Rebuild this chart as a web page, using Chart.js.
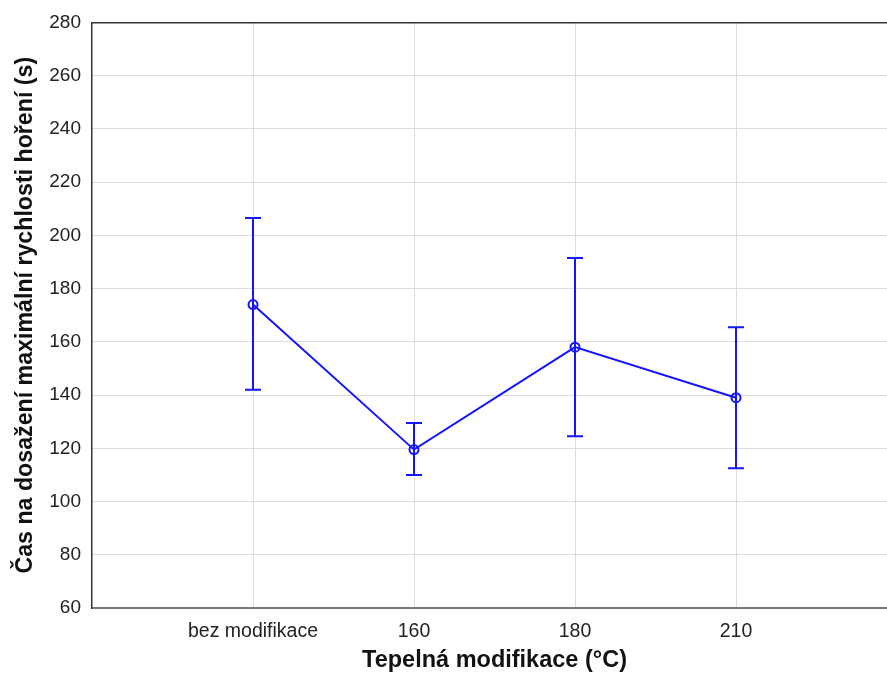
<!DOCTYPE html>
<html>
<head>
<meta charset="utf-8">
<script src="https://cdn.jsdelivr.net/npm/chart.js@4/dist/chart.umd.min.js"></script>
<style>
  html, body { margin: 0; padding: 0; background: #fff; overflow: hidden; }
  #wrap { width: 887px; height: 675px; overflow: hidden; }
</style>
</head>
<body>
<!-- the original plot runs a little past the right edge of the picture -->
<div id="wrap"><canvas id="myChart" width="897" height="675"></canvas></div>
<script>
// categories and values
let categories = ['bez modifikace', '160', '180', '210']
let means = [174, 119.5, 158, 139]
let lows = [142, 110, 124.5, 112.5]
let highs = [206.5, 129.5, 191.5, 165.5]
let yTicks = [60, 80, 100, 120, 140, 160, 180, 200, 220, 240, 260, 280]

const blue = 'rgb(20, 20, 255)'

// mean points
let meanData = means.map((m, i) => ({ x: i, y: m }))

// error bars: low -> high for each category, split with null gaps
let errData = []
for (i = 0; i < categories.length; i++) {
    errData.push({ x: i, y: lows[i] })
    errData.push({ x: i, y: highs[i] })
    errData.push({ x: i, y: null })
}

var ctx = document.getElementById('myChart').getContext('2d')
var chart = new Chart(ctx, {
    type: 'line',
    data: {
        datasets: [{
            label: 'error',
            data: errData,
            borderColor: blue,
            borderWidth: 2,
            pointStyle: 'line',
            pointRadius: 8,
            pointBorderWidth: 2,
            pointBorderColor: blue,
            spanGaps: false,
            order: 2
        }, {
            label: 'mean',
            data: meanData,
            borderColor: blue,
            borderWidth: 2,
            pointStyle: 'circle',
            pointRadius: 4.5,
            pointBorderWidth: 2,
            pointBackgroundColor: 'rgba(0,0,0,0)',
            pointBorderColor: blue,
            order: 1
        }]
    },
    options: {
        responsive: false,
        animation: false,
        layout: { autoPadding: false, padding: { top: 18, right: 0, bottom: 0, left: 0 } },
        plugins: { legend: { display: false }, tooltip: { enabled: false } },
        scales: {
            x: {
                type: 'linear',
                position: 'bottom',
                min: -1,
                max: 4,
                afterBuildTicks: axis => { axis.ticks = categories.map((c, i) => ({ value: i })) },
                afterFit: s => { s.height = 67 },
                ticks: {
                    callback: v => categories[v],
                    color: '#222',
                    padding: 12,
                    maxRotation: 0,
                    font: { family: 'Liberation Sans, Arial', size: 19.5 }
                },
                grid: { color: '#dcdcdc', drawTicks: false },
                border: { color: '#777', width: 2 },
                title: {
                    display: true,
                    text: 'Tepelná modifikace (°C)',
                    color: '#111',
                    padding: { top: 0, bottom: 0 },
                    font: { family: 'Liberation Sans, Arial', size: 23.5, weight: 'bold' }
                }
            },
            x2: {
                type: 'linear',
                position: 'top',
                min: -1,
                max: 4,
                ticks: { display: false },
                grid: { display: false, drawTicks: false },
                border: { color: '#333', width: 1.5 }
            },
            y: {
                min: 60,
                max: 280,
                afterBuildTicks: axis => { axis.ticks = yTicks.map(v => ({ value: v })) },
                afterFit: s => { s.width = 92 },
                ticks: {
                    color: '#222',
                    padding: 11,
                    font: { family: 'Liberation Sans, Arial', size: 19 }
                },
                grid: { color: '#dcdcdc', drawTicks: false },
                border: { color: '#333', width: 1.5 },
                title: {
                    display: true,
                    text: 'Čas na dosažení maximální rychlosti hoření (s)',
                    color: '#111',
                    padding: { top: 12, bottom: 0 },
                    font: { family: 'Liberation Sans, Arial', size: 23.2, weight: 'bold' }
                }
            }
        }
    }
})
</script>
</body>
</html>
